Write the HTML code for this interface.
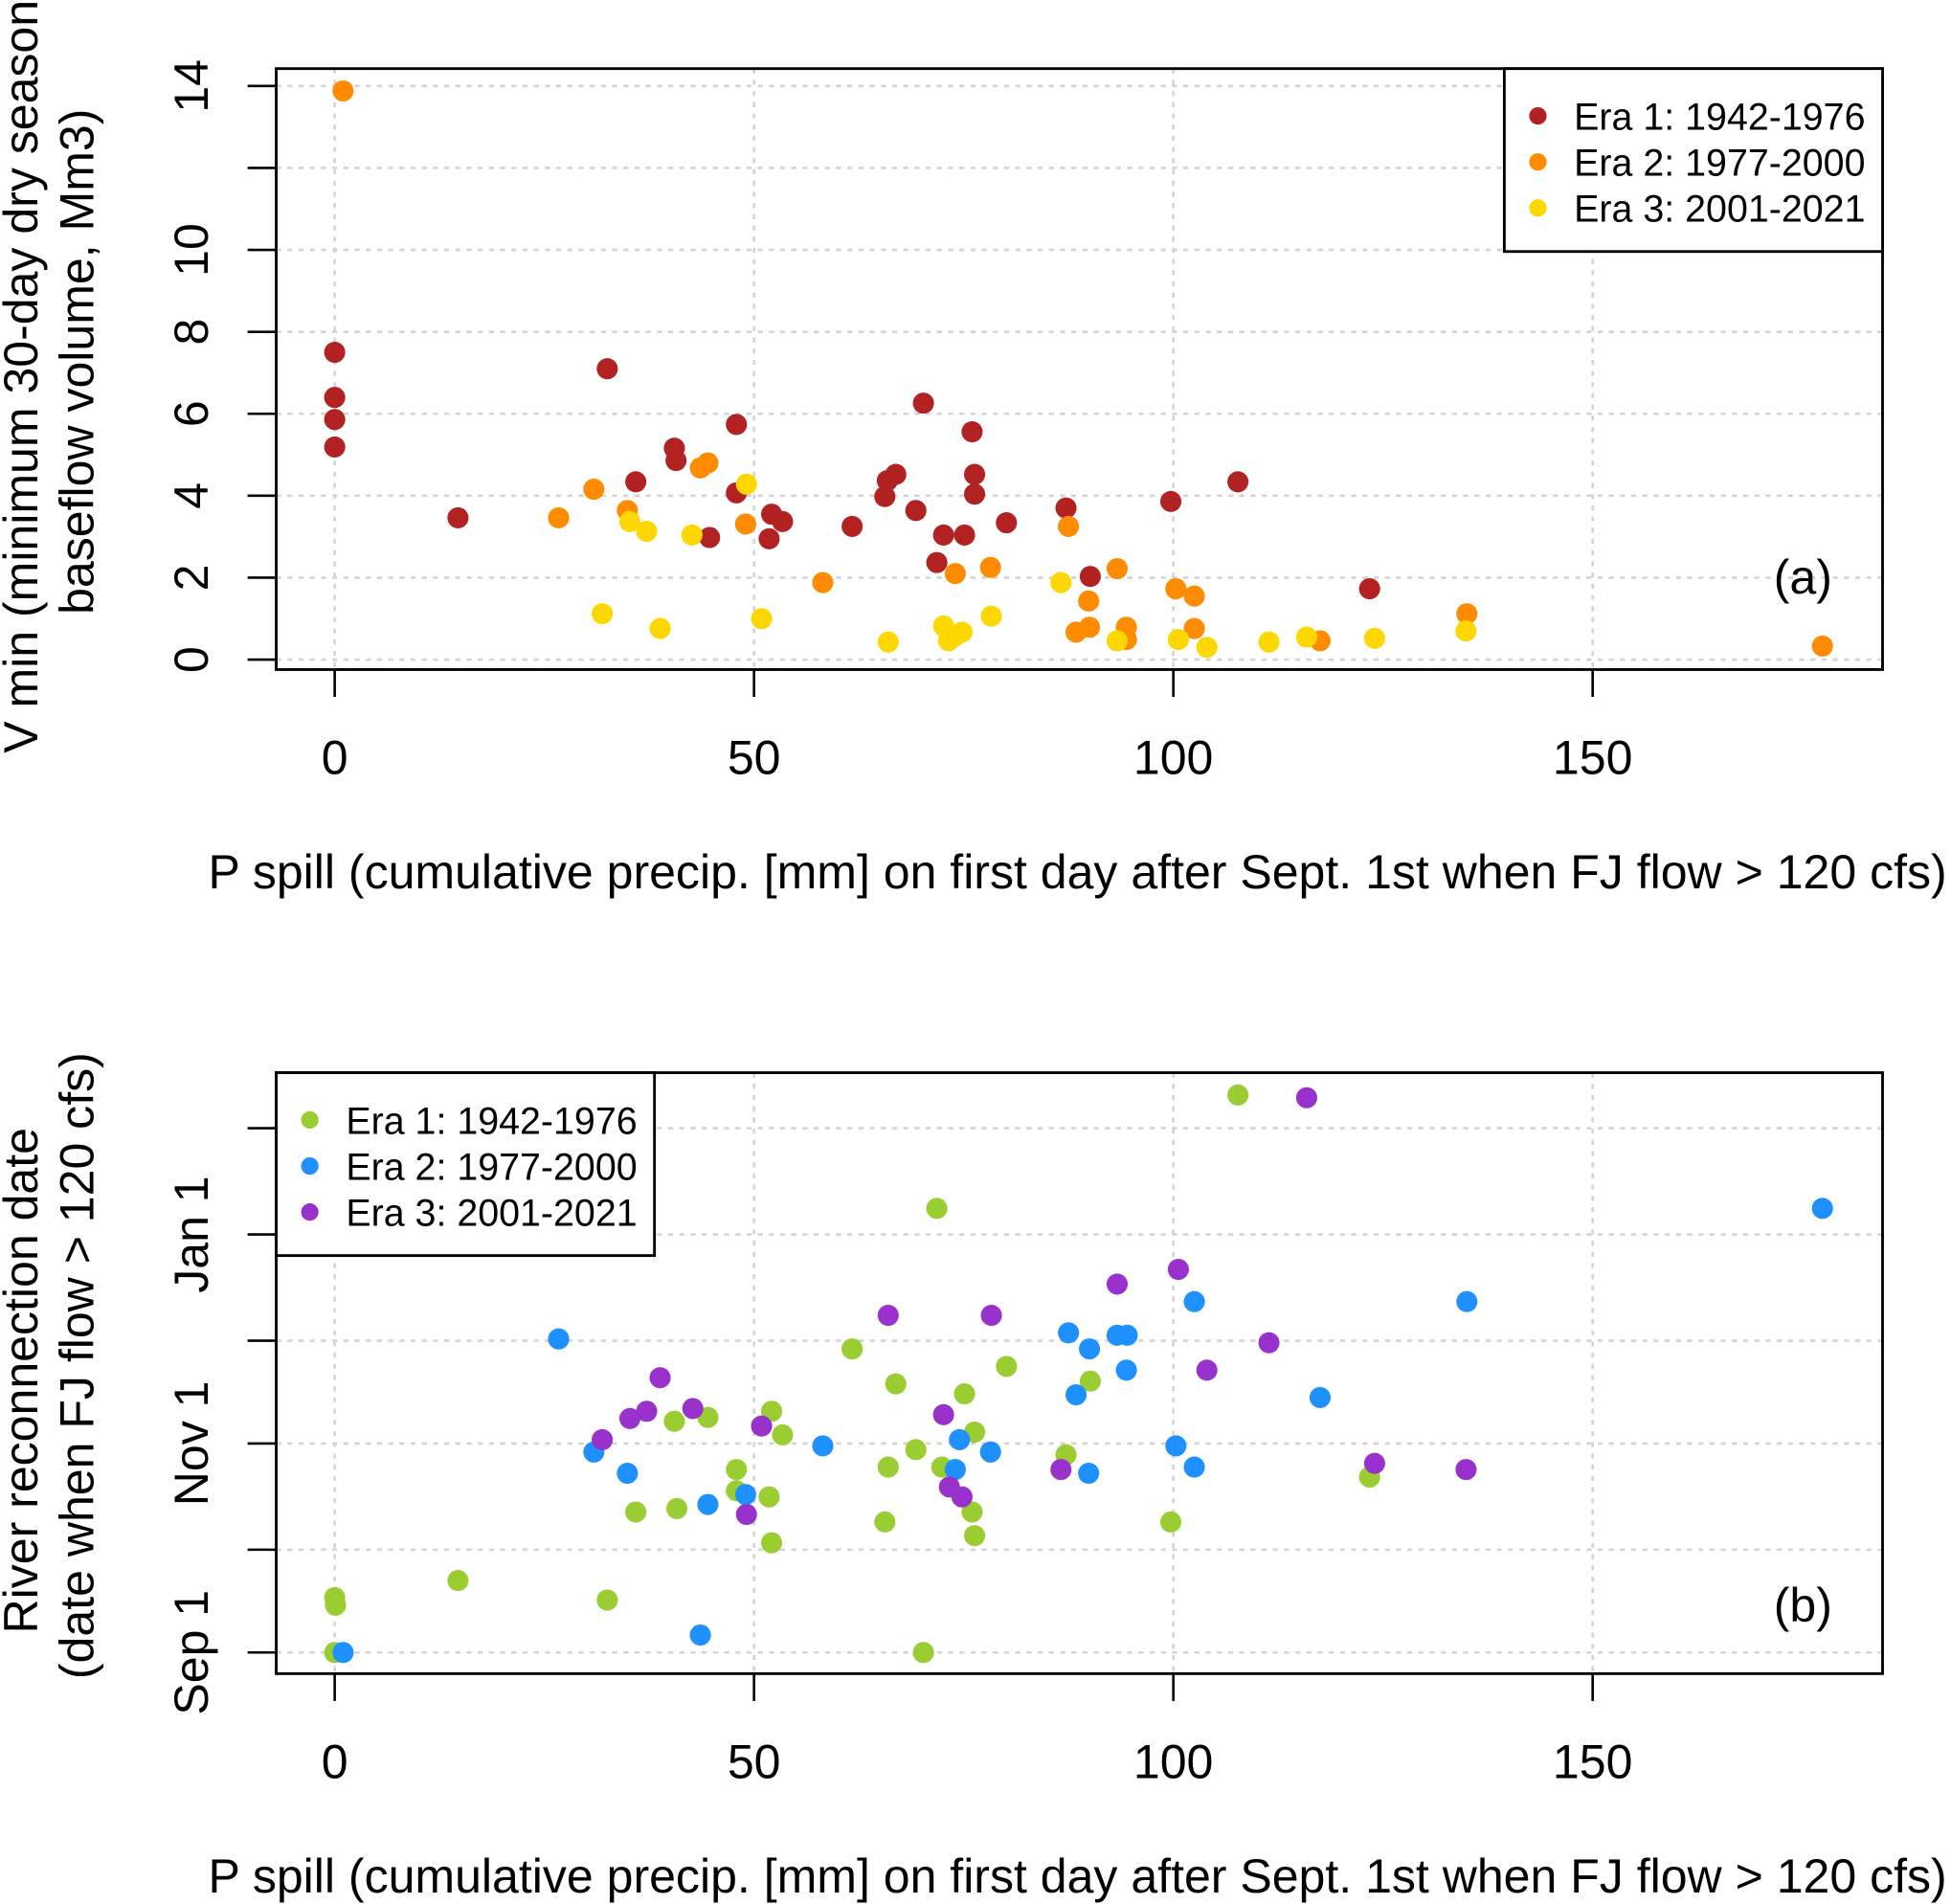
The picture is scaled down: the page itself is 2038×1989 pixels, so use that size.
<!DOCTYPE html>
<html><head><meta charset="utf-8"><style>
html,body{margin:0;padding:0;background:#fff;}
svg{display:block;font-family:"Liberation Sans",Arial,sans-serif;}
</style></head><body>
<svg id="chart" width="2038" height="1989" viewBox="0 0 1568 1530" xmlns="http://www.w3.org/2000/svg"></svg>
<script>
// Panel (a) data: P spill (mm) vs V min (Mm3)
const aEra1X=[0,0,0,0,14.7,32.5,35.9,40.5,40.7,44.7,47.9,47.9,52.1,51.8,53.4,61.7,65.6,65.9,66.9,69.3,70.2,71.8,72.6,75.1,76.0,76.3,76.3,80.1,87.2,90.1,99.7,107.7,123.4];
const aEra1Y=[7.5,6.4,5.86,5.19,3.46,7.1,4.34,5.16,4.86,2.98,5.74,4.07,3.55,2.95,3.37,3.25,3.98,4.37,4.52,3.64,6.26,2.37,3.04,3.04,5.56,4.52,4.04,3.34,3.7,2.03,3.86,4.34,1.73];
const aEra2X=[1.0,26.7,30.9,34.9,43.6,44.5,49.0,58.2,74.0,78.2,87.5,88.4,90.0,89.9,93.3,94.4,94.4,100.3,102.5,102.5,117.5,135.0,177.4];
const aEra2Y=[13.88,3.46,4.16,3.64,4.68,4.8,3.31,1.88,2.1,2.25,3.25,0.67,0.79,1.43,2.22,0.79,0.49,1.73,1.55,0.76,0.46,1.12,0.33];
const aEra3X=[31.9,35.2,37.2,38.8,42.6,49.1,50.9,66.0,72.6,73.2,74.0,74.8,78.3,86.6,93.3,100.6,104.0,111.4,115.9,124.0,134.9];
const aEra3Y=[1.12,3.37,3.13,0.76,3.04,4.28,1.0,0.43,0.82,0.46,0.58,0.67,1.06,1.88,0.46,0.49,0.3,0.43,0.55,0.52,0.7];
// Panel (b) data: P spill (mm) vs reconnection day (days since Sep 1)
const bEra1X=[0,0,0.1,14.7,32.5,35.9,40.5,40.8,44.5,47.9,47.9,52.1,51.8,52.1,53.4,61.7,65.6,66.0,66.9,69.3,70.2,71.8,72.4,75.1,76.0,76.3,76.3,80.1,87.2,90.1,99.7,107.7,123.4];
const bEra1Y=[0,16,13.8,21,15.3,41,67.5,42,68.6,53.4,47.2,70.4,45.4,32,63.5,88.6,38.1,54.1,78.4,59.2,0,129.6,54.1,75.5,41,64.3,34.1,83.5,57.7,79.2,38.1,162.7,51.2];
const bEra2X=[1.0,26.7,30.9,34.9,43.6,44.5,49.0,58.2,74.0,74.5,78.2,87.5,88.4,90.0,89.9,93.3,94.5,94.4,100.3,102.5,102.5,117.5,135.0,177.4];
const bEra2Y=[0,91.5,58.5,52.3,5.1,43.2,46.1,60.3,53.4,62.1,58.5,93.3,75.2,88.6,52.3,92.6,92.6,82.4,60.3,102.4,54.1,74.4,102.4,129.6];
const bEra3X=[31.9,35.2,37.2,38.8,42.7,49.1,50.9,66.0,72.6,73.3,74.8,78.3,86.6,93.3,100.6,104.0,111.4,115.9,124.0,134.9];
const bEra3Y=[62.1,68.3,70.4,80.2,71.2,40.3,66.1,98.4,69.4,48.3,45.4,98.4,53.4,107.5,111.8,82.4,90.4,161.9,55.2,53.4];
const xTicks=[0,50,100,150];
const aYTicks=[0,2,4,6,8,10,12,14];
const aYLabels=["0","2","4","6","8","10","","14"];
const bYTicks=[0,30,61,91,122,153];
const bYLabels=["Sep 1","","Nov 1","","Jan 1",""];
const eraLabels=["Era 1: 1942-1976","Era 2: 1977-2000","Era 3: 2001-2021"];

const NS="http://www.w3.org/2000/svg";
const svg=document.getElementById('chart');
function mk(tag,attrs,parent){const e=document.createElementNS(NS,tag);for(const k in attrs)e.setAttribute(k,attrs[k]);(parent||svg).appendChild(e);return e;}
const xs=v=>269+v*6.74;
const ayS=v=>530-v*32.93;
const byS=v=>1328-v*2.754;
const FS=38.5;

function panel(top,bottom,yS,yTicks,yLabels,series,colors,legX,tag,yTitle1,yTitle2,name){
  const g=mk('g',{});
  
  
  xTicks.forEach(t=>{const l=mk('line',{x1:xs(t),x2:xs(t),y1:top,y2:bottom,stroke:'#d3d3d3','stroke-width':2,'stroke-dasharray':'4 5'},g);
    });
  yTicks.forEach(t=>{const l=mk('line',{x1:222,x2:1513,y1:yS(t),y2:yS(t),stroke:'#d3d3d3','stroke-width':2,'stroke-dasharray':'4 5'},g);
    });
  series.forEach((s,i)=>{s[0].forEach((x,j)=>{const c=mk('circle',{cx:xs(x),cy:yS(s[1][j]),r:8.5,fill:colors[i]},g);
    });});
  const b=mk('rect',{x:222,y:top,width:1291,height:bottom-top,fill:'none',stroke:'#000','stroke-width':2.2},g);
  
  xTicks.forEach(t=>{mk('line',{x1:xs(t),x2:xs(t),y1:bottom,y2:bottom+22,stroke:'#000','stroke-width':2},g);
    const tx=mk('text',{x:xs(t),y:bottom+84,'font-size':FS,'text-anchor':'middle'},g);tx.textContent=t;
    });
  yTicks.forEach((t,i)=>{mk('line',{x1:199,x2:222,y1:yS(t),y2:yS(t),stroke:'#000','stroke-width':2},g);
    if(yLabels[i]){const tx=mk('text',{x:0,y:0,'font-size':FS,'text-anchor':'middle',transform:`translate(167,${yS(t)}) rotate(-90)`},g);tx.textContent=yLabels[i];
    }});
  const xt=mk('text',{x:866,y:bottom+176,'font-size':FS,'text-anchor':'middle'},g);
  xt.textContent='P spill (cumulative precip. [mm] on first day after Sept. 1st when FJ flow > 120 cfs)';
  
  const mid=(top+bottom)/2;
  const y1=mk('text',{x:0,y:0,'font-size':FS,'text-anchor':'middle',transform:`translate(30,${mid+6}) rotate(-90)`},g);y1.textContent=yTitle1;
  
  const y2=mk('text',{x:0,y:0,'font-size':FS,'text-anchor':'middle',transform:`translate(75,${mid-6}) rotate(-90)`},g);y2.textContent=yTitle2;
  
  const lg=mk('g',{},g);
  
  mk('rect',{x:legX,y:top,width:304,height:147,fill:'#fff',stroke:'#000','stroke-width':2.2},lg);
  eraLabels.forEach((lab,i)=>{const cy=top+38+i*37;
    const c=mk('circle',{cx:legX+27,cy:cy,r:7,fill:colors[i]},lg);
    
    const t=mk('text',{x:legX+56,y:cy+11,'font-size':30.3},lg);t.textContent=lab;
    });
  const pt=mk('text',{x:1449,y:yS===ayS?477:1303,'font-size':FS,'text-anchor':'middle'},g);pt.textContent=tag;
  
}
panel(55,538,ayS,aYTicks,aYLabels,[[aEra1X,aEra1Y],[aEra2X,aEra2Y],[aEra3X,aEra3Y]],['#B22222','#FF8C00','#FFD700'],1209,'(a)','V min (minimum 30-day dry season','baseflow volume, Mm3)','panel-a');
panel(862,1345,byS,bYTicks,bYLabels,[[bEra1X,bEra1Y],[bEra2X,bEra2Y],[bEra3X,bEra3Y]],['#9ACD32','#1E90FF','#9932CC'],222,'(b)','River reconnection date','(date when FJ flow > 120 cfs)','panel-b');
</script>
</body></html>
